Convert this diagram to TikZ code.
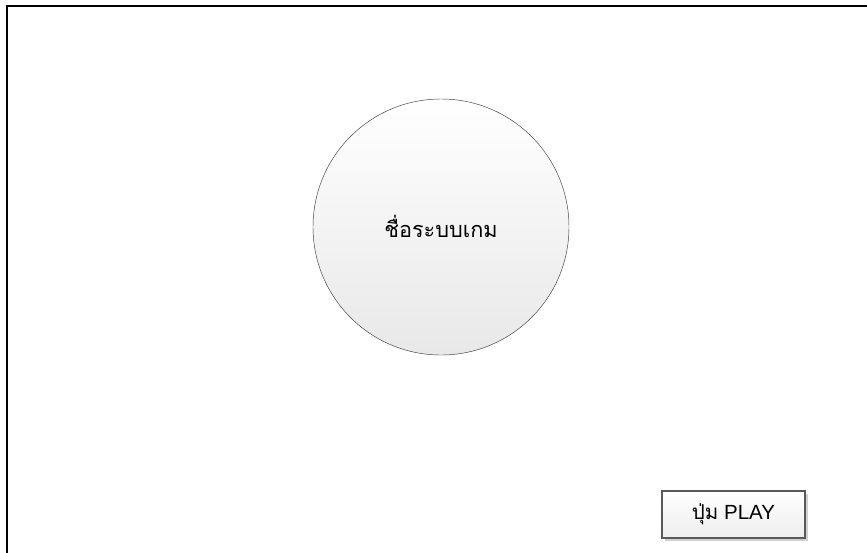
\documentclass[tikz,border=0pt]{standalone}
\usepackage{fontspec}
\setmainfont{Liberation Sans}
\newfontfamily\thaifont[Script=Thai]{Loma}
\usetikzlibrary{shadows}

\tikzset{
  titleball/.style={circle,draw=black!75,thin,minimum size=7.68cm,inner sep=0pt,
    top color=white,bottom color=black!9,font=\thaifont\fontsize{18.5}{20}\selectfont},
  playbtn/.style={rectangle,draw=black!65,line width=0.9pt,minimum width=4.29cm,minimum height=1.41cm,
    inner sep=0pt,top color=white,bottom color=black!7,
    drop shadow={shadow xshift=2.5pt,shadow yshift=-2.5pt,fill=black!18,opacity=1},
    font=\fontsize{17.5}{19}\selectfont}
}

\begin{document}
\begin{tikzpicture}[x=0.03cm,y=-0.03cm,line cap=round]
\useasboundingbox (0,0) rectangle (867,552);
\begin{scope}
\clip (0,0) rectangle (867,552);
\draw[line width=1.6pt] (7,6) rectangle (880,570);
\end{scope}
\node[titleball] (title) at (441,227) {\raisebox{1pt}{ชื่อระบบเกม}};
\node[playbtn] (play) at (733.5,514.5) {{\thaifont ปุ่ม} PLAY};
\end{tikzpicture}
\end{document}
